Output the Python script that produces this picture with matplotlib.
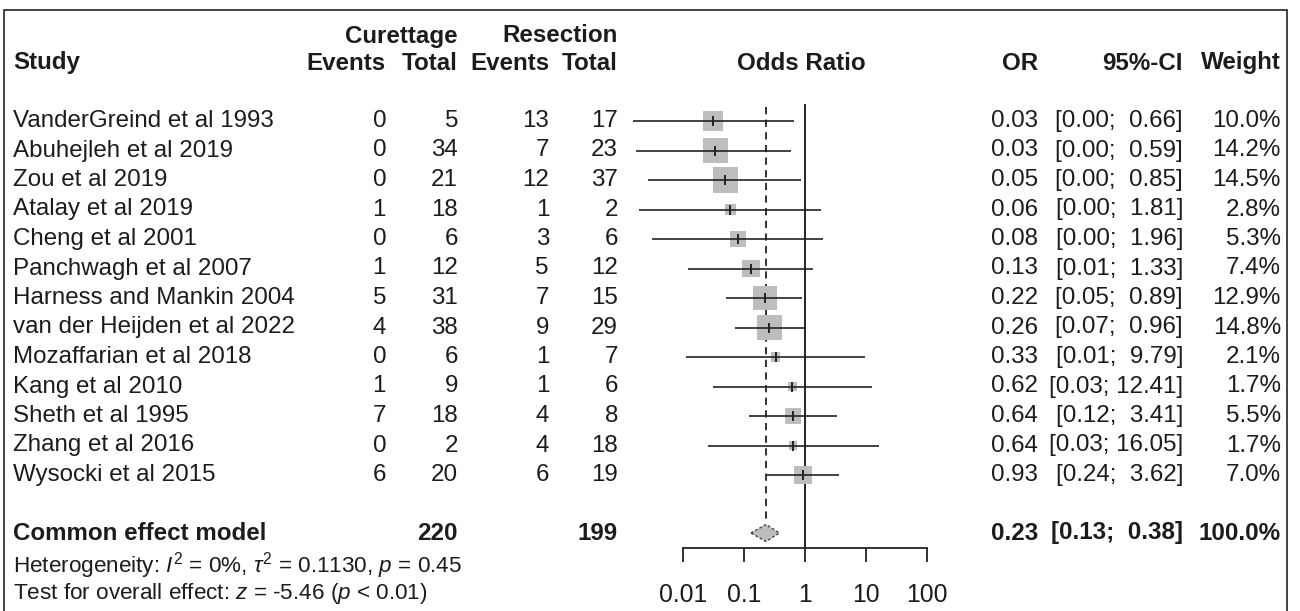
import numpy as np
import matplotlib
matplotlib.use("Agg")
import matplotlib.pyplot as plt

plt.rcParams['font.family'] = ['Liberation Sans', 'DejaVu Sans']
plt.rcParams['mathtext.fontset'] = 'custom'
plt.rcParams['mathtext.rm'] = 'Liberation Sans'
plt.rcParams['mathtext.it'] = 'Liberation Sans:italic'

# ---------------- data ----------------
studies = ["VanderGreind et al 1993", "Abuhejleh et al 2019", "Zou et al 2019",
           "Atalay et al 2019", "Cheng et al 2001", "Panchwagh et al 2007",
           "Harness and Mankin 2004", "van der Heijden et al 2022",
           "Mozaffarian et al 2018", "Kang et al 2010", "Sheth et al 1995",
           "Zhang et al 2016", "Wysocki et al 2015"]
cur_events = [0, 0, 0, 1, 0, 1, 5, 4, 0, 1, 7, 0, 6]
cur_total = [5, 34, 21, 18, 6, 12, 31, 38, 6, 9, 18, 2, 20]
res_events = [13, 7, 12, 1, 3, 5, 7, 9, 1, 1, 4, 4, 6]
res_total = [17, 23, 37, 2, 6, 12, 15, 29, 7, 6, 8, 18, 19]
odds_ratio = [0.031, 0.034, 0.049, 0.059, 0.08, 0.13, 0.22, 0.26, 0.33, 0.62, 0.64, 0.64, 0.93]
ci_low = [0.0015, 0.0017, 0.0027, 0.0019, 0.0031, 0.012, 0.05, 0.07, 0.011, 0.031, 0.12, 0.026, 0.24]
ci_high = [0.66, 0.59, 0.85, 1.81, 1.96, 1.33, 0.89, 0.96, 9.79, 12.41, 3.41, 16.05, 3.62]
weights = [10.0, 14.2, 14.5, 2.8, 5.3, 7.4, 12.9, 14.8, 2.1, 1.7, 5.5, 1.7, 7.0]

pooled_label = "Common effect model"
pooled_cur_total = 220
pooled_res_total = 199
pooled_or = 0.23
pooled_low = 0.13
pooled_high = 0.38
pooled_weight = 100.0
het_text = r"Heterogeneity: $\mathit{I}^2$ = 0%, $\tau^2$ = 0.1130, $\mathit{p}$ = 0.45"
test_text = r"Test for overall effect: $\mathit{z}$ = -5.46 ($\mathit{p}$ < 0.01)"
tick_values = [0.01, 0.1, 1, 10, 100]
tick_labels = ["0.01", "0.1", "1", "10", "100"]

# ---------------- layout (pixels) ----------------
W, H = 1300, 611
ROW0, ROWH = 121, 29.5
Y_GROUP, Y_HEAD = 36, 63
Y_SUM = 533
Y_AXIS = 548
Y_HET, Y_TEST = 566, 593
X_STUDY = 13
X_CE, X_CT, X_RE, X_RT = 386, 458, 549, 618
X_OR, X_CI, X_W = 1038, 1183, 1281
X_OR_HEAD = 801

TXT = '#1c1c1c'
FS = 17.4
BOX = '#bdbdbd'

fig = plt.figure(figsize=(W / 100, H / 100), dpi=100)
ax_t = fig.add_axes([0, 0, 1, 1])
ax_t.set_xlim(0, W)
ax_t.set_ylim(H, 0)
ax_t.axis('off')

# forest axes: log scale, 1 decade = 61 px, x=1 at 805 px
px_per_dec = 61.0
x_one = 805.0
xmin_px, xmax_px = 622.0, 988.0
ax_f = fig.add_axes([xmin_px / W, 0, (xmax_px - xmin_px) / W, 1])
ax_f.set_xscale('log')
ax_f.set_xlim(10 ** ((xmin_px - x_one) / px_per_dec), 10 ** ((xmax_px - x_one) / px_per_dec))
ax_f.set_ylim(H, 0)
ax_f.patch.set_visible(False)
for s in ['top', 'left', 'right']:
    ax_f.spines[s].set_visible(False)
ax_f.spines['bottom'].set_position(('data', Y_AXIS))
ax_f.spines['bottom'].set_bounds(tick_values[0], tick_values[-1])
ax_f.spines['bottom'].set_linewidth(1.3)
ax_f.spines['bottom'].set_color('#222222')
ax_f.set_yticks([])
ax_f.set_xticks(tick_values)
ax_f.set_xticklabels(tick_labels)
ax_f.minorticks_off()
ax_f.tick_params(axis='x', direction='out', length=10, width=1.3, color='#222222',
                 labelsize=17.8, labelcolor=TXT, pad=15.5)

# frame
ax_t.plot([4, 4, 1287, 1287], [H + 5, 10, 10, H + 5], color='#222222', lw=1.2,
          clip_on=False, solid_joinstyle='miter')

def txt(x, y, s, ha='right', bold=False, size=FS):
    ax_t.text(x, y, s, ha=ha, va='center', fontsize=size, color=TXT,
              fontweight='bold' if bold else 'normal')

# headers
txt(X_CT, Y_GROUP, "Curettage", bold=True)
txt(X_RT, Y_GROUP, "Resection", bold=True)
txt(X_STUDY, Y_HEAD, "Study", ha='left', bold=True)
txt(X_CE, Y_HEAD, "Events", bold=True)
txt(X_CT, Y_HEAD, "Total", bold=True)
txt(X_RE, Y_HEAD, "Events", bold=True)
txt(X_RT, Y_HEAD, "Total", bold=True)
txt(X_OR_HEAD, Y_HEAD, "Odds Ratio", ha='center', bold=True)
txt(X_OR, Y_HEAD, "OR", bold=True)
txt(X_CI, Y_HEAD, "95%-CI", bold=True)
txt(X_W, Y_HEAD, "Weight", bold=True)

def ci_str(lo, hi):
    hs = f"{hi:.2f}"
    pad = "  " if len(hs) < 5 else " "
    return f"[{lo:.2f};{pad}{hs}]"

ys = [ROW0 + i * ROWH for i in range(len(studies))]
for i, y in enumerate(ys):
    txt(X_STUDY, y, studies[i], ha='left')
    txt(X_CE, y, str(cur_events[i]))
    txt(X_CT, y, str(cur_total[i]))
    txt(X_RE, y, str(res_events[i]))
    txt(X_RT, y, str(res_total[i]))
    txt(X_OR, y, f"{odds_ratio[i]:.2f}")
    txt(X_CI, y, ci_str(ci_low[i], ci_high[i]))
    txt(X_W, y, f"{weights[i]:.1f}%")

# pooled row
txt(X_STUDY, Y_SUM, pooled_label, ha='left', bold=True)
txt(X_CT, Y_SUM, str(pooled_cur_total), bold=True)
txt(X_RT, Y_SUM, str(pooled_res_total), bold=True)
txt(X_OR, Y_SUM, f"{pooled_or:.2f}", bold=True)
txt(X_CI, Y_SUM, ci_str(pooled_low, pooled_high), bold=True)
txt(X_W, Y_SUM, f"{pooled_weight:.1f}%", bold=True)
txt(X_STUDY, Y_HET, het_text, ha='left', size=16.2)
txt(X_STUDY, Y_TEST, test_text, ha='left', size=16.2)

# reference lines
ax_f.vlines(1, 104, Y_AXIS, color='#222222', lw=1.4)
ax_f.vlines(pooled_or, 107, Y_SUM - 9, color='#222222', lw=1.3,
            linestyles=(0, (4, 3)))

# study CIs and boxes
px2pt = 72 / 100
sides = [6.6 * np.sqrt(w) * px2pt for w in weights]
ax_f.scatter(odds_ratio, ys, marker='s', s=[s ** 2 for s in sides], color=BOX,
             linewidths=0, zorder=2)
ax_f.hlines(ys, ci_low, ci_high, color='#222222', lw=1.2, zorder=3)
ax_f.plot(odds_ratio, ys, marker='|', ms=7, mew=1.4, color='#222222', ls='none', zorder=4)

# pooled diamond
dh = 8.5
ax_f.fill([pooled_low, pooled_or, pooled_high, pooled_or],
          [Y_SUM, Y_SUM - dh, Y_SUM, Y_SUM + dh],
          facecolor=BOX, edgecolor='#444444', lw=1.0, linestyle=(0, (2, 1.5)), zorder=3)

fig.savefig("out.png", dpi=100)
